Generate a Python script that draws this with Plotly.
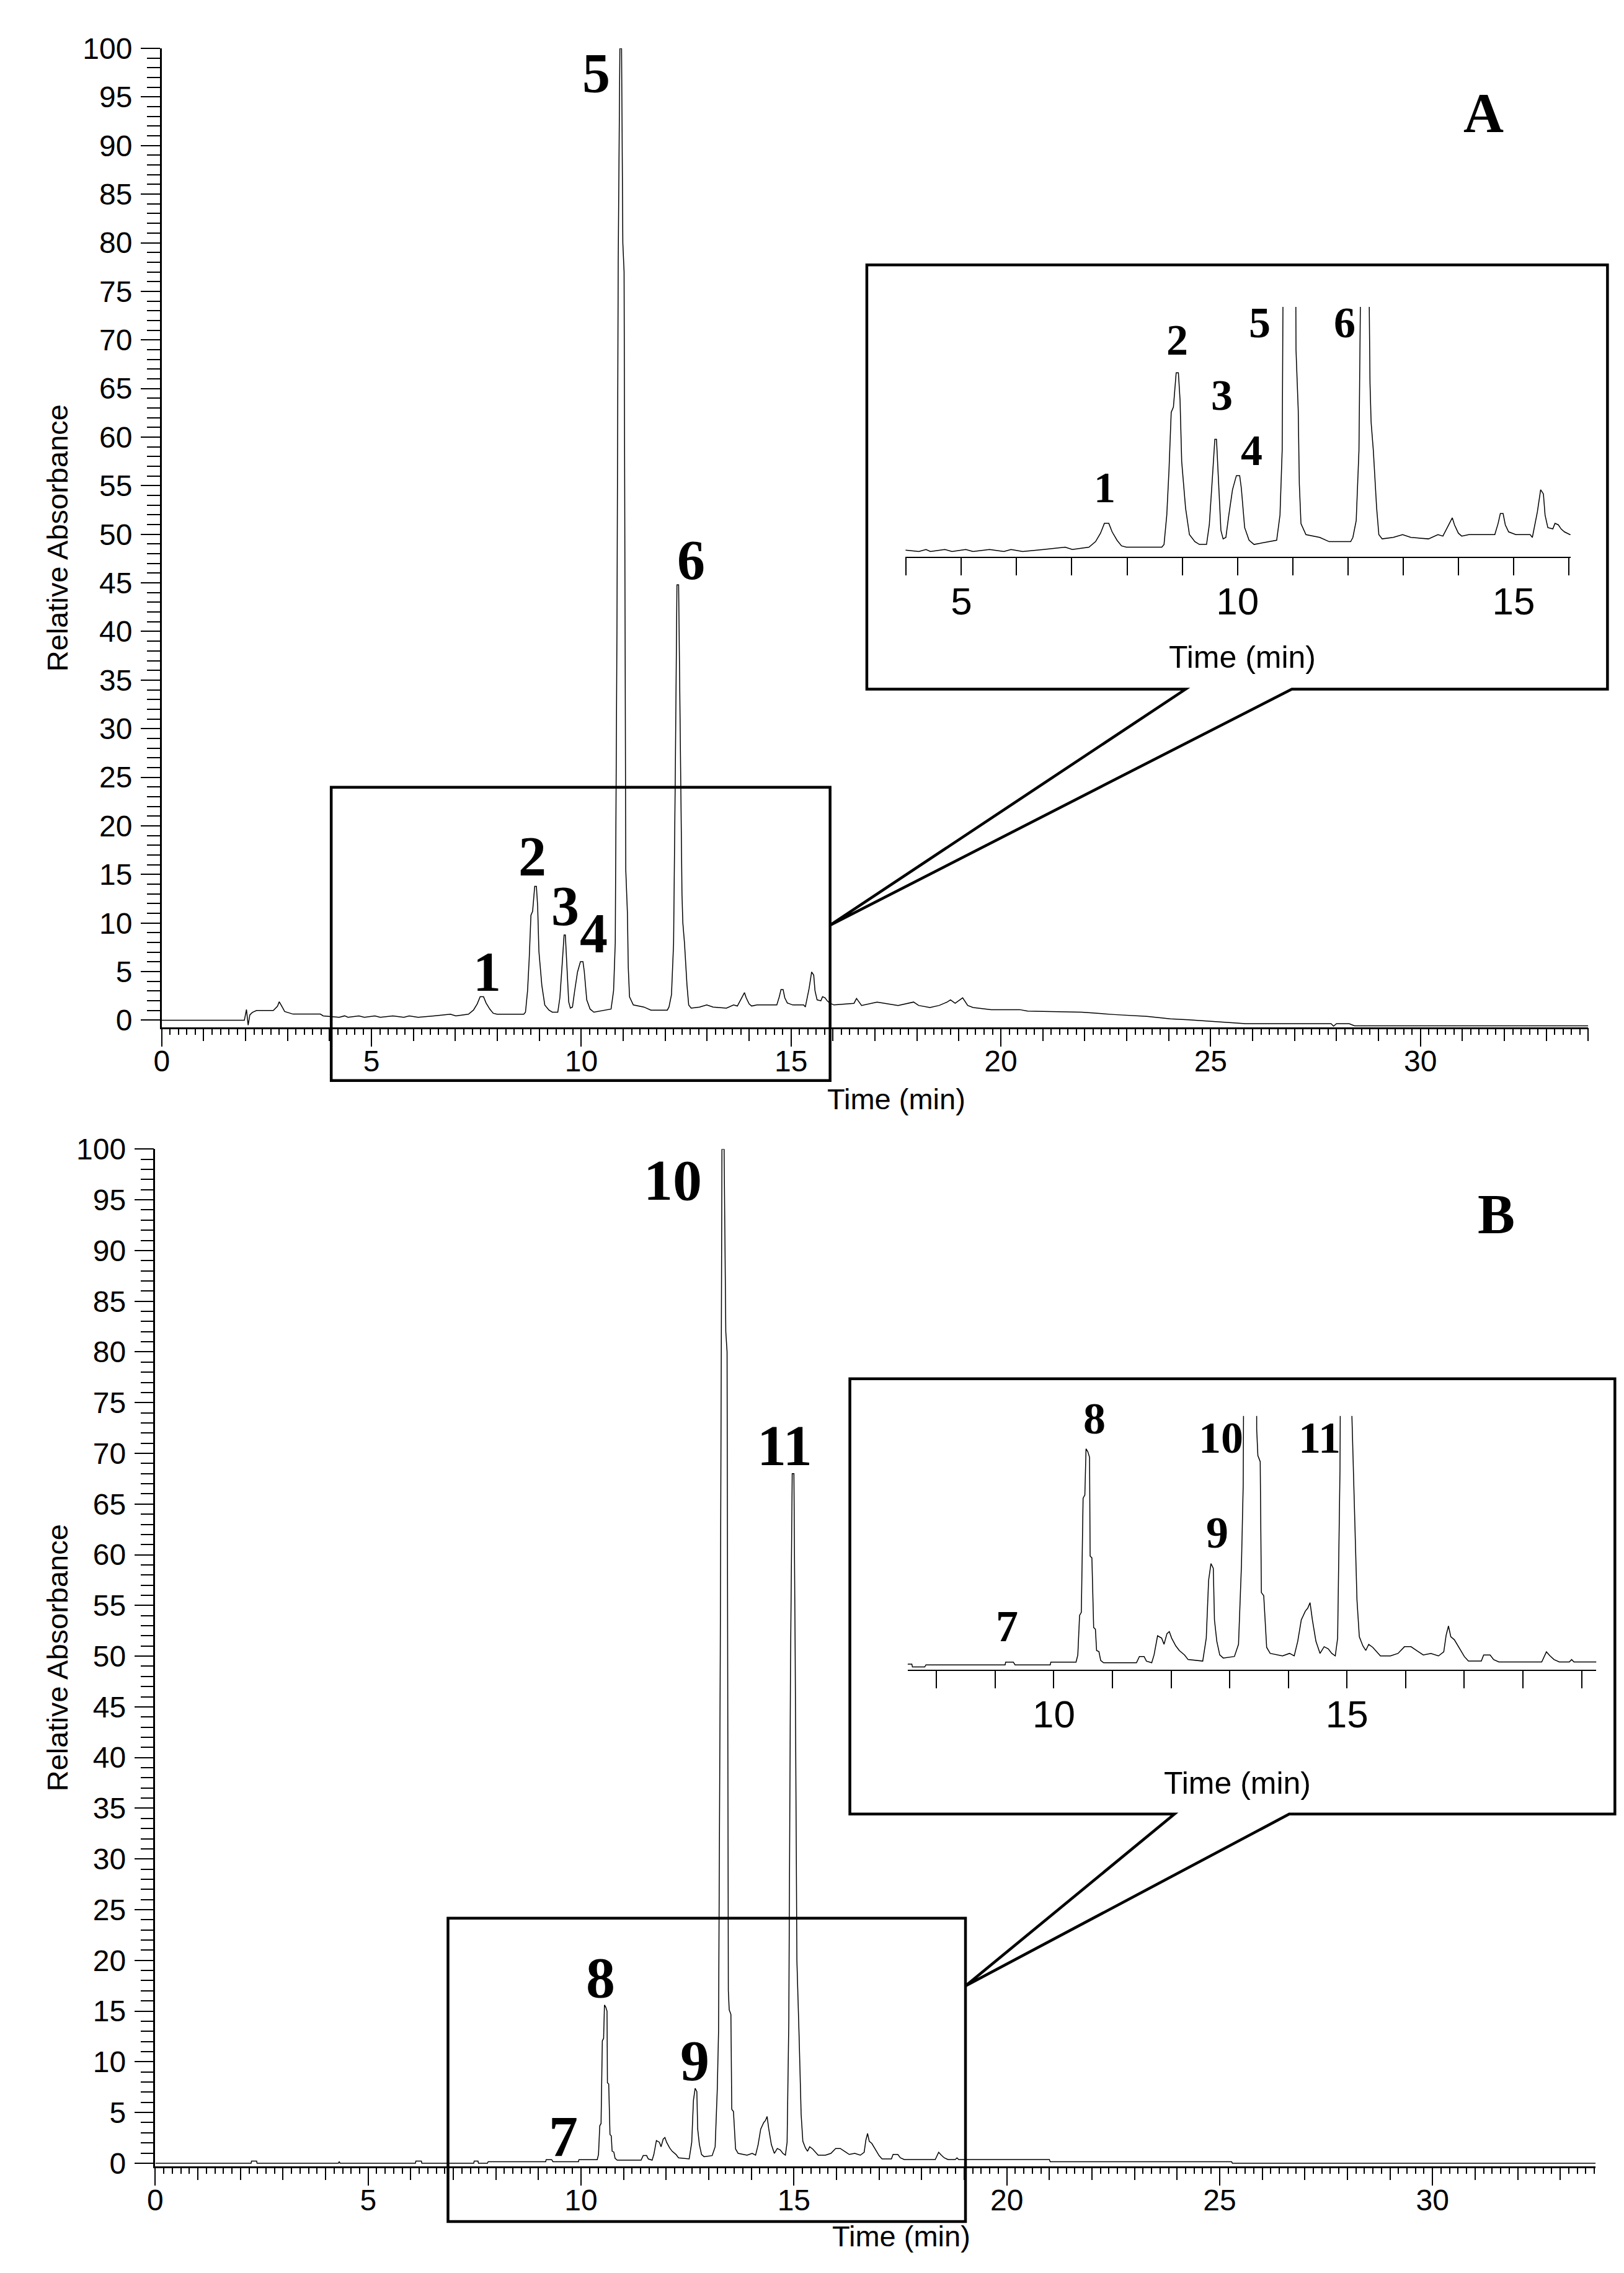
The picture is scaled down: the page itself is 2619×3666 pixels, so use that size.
import numpy as np
import plotly.graph_objects as go

W, H = 2619, 3666
SANS = "Liberation Sans, Arial, sans-serif"
SERIF = "Liberation Serif, Times New Roman, serif"

# ---- chromatogram A: time (min) / relative absorbance ----
time_a = [0.00, 1.97, 2.02, 2.06, 2.10, 2.16, 2.26, 2.66, 2.76, 2.80, 2.86, 2.93, 3.13, 3.78, 3.85,
          4.23, 4.36, 4.44, 4.70, 4.83, 5.08, 5.21, 5.51, 5.77, 5.90, 6.11, 6.49, 6.88, 7.01, 7.31,
          7.43, 7.52, 7.59, 7.67, 7.73, 7.82, 7.90, 7.99, 8.63, 8.67, 8.72, 8.76, 8.80, 8.84, 8.89,
          8.93, 8.96, 8.99, 9.06, 9.13, 9.23, 9.31, 9.44, 9.49, 9.55, 9.59, 9.62, 9.65, 9.70, 9.74,
          9.79, 9.84, 9.91, 9.98, 10.04, 10.07, 10.13, 10.21, 10.30, 10.71, 10.77, 10.81, 10.85,
          10.88, 10.92, 10.96, 10.99, 11.02, 11.04, 11.06, 11.10, 11.12, 11.15, 11.24, 11.49, 11.66,
          12.05, 12.09, 12.15, 12.20, 12.24, 12.28, 12.32, 12.36, 12.40, 12.42, 12.46, 12.52, 12.56,
          12.62, 12.82, 12.99, 13.14, 13.46, 13.63, 13.72, 13.82, 13.89, 13.93, 14.00, 14.06, 14.19,
          14.66, 14.72, 14.76, 14.81, 14.85, 14.91, 15.04, 15.30, 15.34, 15.43, 15.49, 15.54, 15.57,
          15.62, 15.71, 15.75, 15.81, 15.86, 15.92, 16.02, 16.50, 16.56, 16.68, 17.05, 17.55, 17.92,
          18.04, 18.31, 18.53, 18.72, 18.80, 18.91, 19.09, 19.21, 19.34, 19.77, 20.45, 20.64, 21.93,
          22.71, 23.48, 24.04, 24.47, 25.15, 25.83, 27.87, 27.93, 28.00, 28.30, 28.43, 34.00]
abs_a = [0.00, 0.00, 1.10, -0.50, 0.55, 0.80, 1.00, 1.00, 1.45, 1.90, 1.45, 0.90, 0.63, 0.63, 0.45,
         0.30, 0.45, 0.30, 0.45, 0.30, 0.45, 0.30, 0.45, 0.30, 0.45, 0.30, 0.45, 0.62, 0.45, 0.62,
         1.04, 1.68, 2.42, 2.42, 1.78, 1.14, 0.72, 0.62, 0.62, 0.83, 3.05, 6.44, 10.80, 11.20, 13.78,
         13.78, 11.74, 7.08, 3.58, 1.57, 1.04, 0.83, 0.83, 2.31, 6.13, 8.77, 8.77, 6.23, 1.89, 1.25,
         1.36, 2.95, 4.96, 6.02, 6.02, 5.07, 2.10, 1.15, 0.83, 1.15, 3.05, 8.00, 40.0,
         78.0, 100.0, 100.0, 80.0, 77.0, 40.0, 15.5, 11.0, 5.40, 2.40, 1.57, 1.36, 1.04,
         1.04, 1.36, 2.63, 7.93, 25.0, 44.8, 44.8, 30.0, 13.0, 10.05, 7.93, 3.58, 1.57,
         1.25, 1.36, 1.57, 1.36, 1.25, 1.57, 1.46, 2.31, 2.84, 2.31, 1.68, 1.46, 1.57,
         1.57, 2.42, 3.16, 3.16, 2.31, 1.78, 1.57, 1.57, 1.36, 3.27, 4.96, 4.64, 3.05,
         2.10, 2.00, 2.42, 2.31, 2.00, 1.78, 1.57, 1.74, 2.24, 1.52, 1.87, 1.52, 1.87,
         1.52, 1.31, 1.52, 1.87, 2.09, 1.74, 2.30, 1.52, 1.31, 1.09, 1.09, 0.94, 0.83,
         0.58, 0.40, 0.14, 0.04, -0.16, -0.35, -0.35, -0.61, -0.35, -0.35, -0.57, -0.57]

# ---- chromatogram B ----
time_b = [0.00, 2.25, 2.26, 2.38, 2.39, 4.30, 4.32, 4.34, 6.11, 6.12, 6.25, 6.26, 7.48, 7.49, 7.58,
          7.59, 7.80, 7.82, 9.17, 9.18, 9.31, 9.34, 9.94, 9.95, 10.38, 10.41, 10.44, 10.47, 10.50,
          10.53, 10.55, 10.58, 10.61, 10.62, 10.65, 10.68, 10.71, 10.73, 10.77, 10.80, 10.85, 11.41,
          11.46, 11.54, 11.58, 11.67, 11.71, 11.77, 11.84, 11.88, 11.93, 11.97, 12.01, 12.08, 12.14,
          12.23, 12.29, 12.54, 12.60, 12.64, 12.68, 12.72, 12.74, 12.78, 12.83, 12.89, 13.08, 13.15,
          13.20, 13.23, 13.27, 13.31, 13.36, 13.40, 13.43, 13.46, 13.48, 13.52, 13.54, 13.58, 13.63,
          13.69, 13.90, 14.02, 14.10, 14.16, 14.22, 14.29, 14.33, 14.37, 14.41, 14.47, 14.54, 14.61,
          14.68, 14.74, 14.80, 14.84, 14.88, 14.92, 14.96, 15.00, 15.03, 15.07, 15.12, 15.17, 15.21,
          15.27, 15.32, 15.37, 15.44, 15.51, 15.57, 15.74, 15.87, 15.98, 16.09, 16.22, 16.30, 16.43,
          16.56, 16.65, 16.69, 16.73, 16.77, 16.83, 16.92, 17.00, 17.07, 17.29, 17.33, 17.44, 17.50,
          17.59, 18.32, 18.36, 18.40, 18.46, 18.53, 18.62, 18.79, 18.83, 18.87, 21.00, 21.02, 25.28,
          25.30, 33.83]
abs_b = [0.00, 0.00, 0.20, 0.20, 0.00, 0.00, 0.15, 0.00, 0.00, 0.20, 0.20, 0.00, 0.00, 0.20, 0.20,
         0.00, 0.00, 0.15, 0.15, 0.35, 0.35, 0.15, 0.15, 0.35, 0.35, 0.86, 3.69, 3.91, 12.07,
         12.30, 15.60, 15.40, 15.00, 7.93, 7.80, 2.82, 2.70, 1.18, 1.10, 0.47, 0.30, 0.30,
         0.75, 0.75, 0.42, 0.30, 0.86, 2.23, 2.06, 1.62, 2.38, 2.53, 2.06, 1.51, 1.18,
         0.86, 0.53, 0.42, 2.06, 6.19, 7.39, 7.06, 3.36, 1.84, 0.86, 0.64, 0.75, 1.62,
         7.28, 13.0, 50.0, 100.0, 100.0, 82.0, 80.0, 17.0, 15.12, 14.68, 5.32, 5.10, 1.40,
         0.97, 0.79, 0.97, 0.79, 1.84, 3.36, 4.00, 4.20, 4.60, 3.36, 1.84, 0.97, 1.45,
         1.30, 0.97, 0.79, 2.06, 14.0, 49.0, 68.0, 68.0, 50.0, 20.0, 12.83, 4.78, 2.16,
         1.51, 1.18, 1.62, 1.40, 1.08, 0.79, 0.79, 0.97, 1.45, 1.45, 1.08, 0.86, 0.97,
         0.79, 1.08, 2.27, 2.93, 2.16, 1.95, 1.29, 0.75, 0.42, 0.42, 0.86, 0.86, 0.53,
         0.36, 0.36, 0.75, 1.08, 0.80, 0.53, 0.36, 0.36, 0.53, 0.36, 0.36, 0.14, 0.14,
         0.00, 0.00]

# ---- peak labels (label, time, absorbance) ----
peaks_a = ["1", "2", "3", "4", "5", "6"]
peaks_a_t = [7.76, 8.84, 9.61, 10.30, 10.36, 12.61]
peaks_a_y = [4.98, 16.87, 11.71, 8.90, 97.41, 47.35]
inset_a_t = [7.60, 8.91, 9.72, 10.26, 10.40, 11.94]
inset_a_y = [5.13, 16.26, 12.10, 7.93, 17.57, 17.55]

peaks_b = ["7", "8", "9", "10", "11"]
peaks_b_t = [9.58, 10.46, 12.67, 12.15, 14.78]
peaks_b_y = [2.67, 18.36, 10.15, 96.98, 70.80]
inset_b_t = [9.20, 10.695, 12.79, 12.85, 14.53]
inset_b_y = [2.90, 17.76, 9.59, 16.37, 16.37]

# axis windows
range_a = [0, 34.0]
range_b = [0, 33.83]
yrange_a = [-0.74, 100]
yrange_b = [-0.3, 100]
inset_a_x = [3.99, 16.03]
inset_a_yr = [-0.08, 18.75]
inset_b_x = [7.51, 19.25]
inset_b_yr = [-0.18, 17.95]
zoom_a = [4.04, 15.93, -6.2, 23.97]
zoom_b = [6.875, 19.03, -5.76, 24.16]


def px(x):
    return x / W


def py(y):
    return 1 - y / H


dom_a_x = [px(241), px(2553)]
dom_a_y = [py(1644.6), py(44.6)]
dom_b_x = [px(230.6), px(2564.9)]
dom_b_y = [py(3505.7), py(1843.5)]
dom_ia_x = [px(1446.6), px(2524.2)]
dom_ia_y = [py(875), py(467.2)]
dom_ib_x = [px(1450.1), px(2566)]
dom_ib_y = [py(2693.9), py(2279.6)]


def to_paper(v, dom, rng):
    return dom[0] + (v - rng[0]) / (rng[1] - rng[0]) * (dom[1] - dom[0])


fig = go.Figure()
line = dict(color="black", width=1.5)
fig.add_trace(go.Scatter(x=time_a, y=abs_a, mode="lines", line=line, xaxis="x", yaxis="y"))
fig.add_trace(go.Scatter(x=time_a, y=abs_a, mode="lines", line=line, xaxis="x2", yaxis="y2"))
fig.add_trace(go.Scatter(x=time_b, y=abs_b, mode="lines", line=line, xaxis="x3", yaxis="y3"))
fig.add_trace(go.Scatter(x=time_b, y=abs_b, mode="lines", line=line, xaxis="x4", yaxis="y4"))
# empty traces so the integer-tick overlay axes get drawn
fig.add_trace(go.Scatter(x=[None], y=[None], xaxis="x5", yaxis="y"))
fig.add_trace(go.Scatter(x=[None], y=[None], xaxis="x6", yaxis="y3"))

tickfont = dict(family=SANS, size=48, color="black")


def main_x(dom, anchor, rng):
    labels = list(range(0, int(rng[1]) + 1, 5))
    minor_vals = [round(v, 1) for v in np.arange(0, rng[1] + 0.001, 0.2)]
    return dict(domain=dom, anchor=anchor, range=rng, showline=True, linecolor="black",
                linewidth=2.5, ticks="outside", tickmode="array", tickvals=labels,
                ticktext=[str(v) for v in labels], ticklen=28, tickwidth=2, tickcolor="black",
                tickfont=tickfont, ticklabelstandoff=-17, showgrid=False, zeroline=False,
                minor=dict(tickmode="array", tickvals=minor_vals, ticks="outside", ticklen=9,
                           tickwidth=1.5, tickcolor="black", showgrid=False))


def int_x(over, anchor, rng):
    return dict(overlaying=over, anchor=anchor, range=rng, tickmode="array",
                tickvals=list(range(0, int(rng[1]) + 1)), ticks="outside", ticklen=21,
                tickwidth=2, tickcolor="black", showticklabels=False, showline=False,
                showgrid=False, zeroline=False)


def main_y(dom, anchor, rng):
    return dict(domain=dom, anchor=anchor, range=rng, showline=True, linecolor="black",
                linewidth=2.5, ticks="outside", tickmode="linear", tick0=0, dtick=5,
                ticklen=31, tickwidth=2, tickcolor="black", tickfont=tickfont,
                ticklabelstandoff=4, showgrid=False, zeroline=False,
                minor=dict(tick0=0, dtick=1, ticks="outside", ticklen=21, tickwidth=2,
                           tickcolor="black", showgrid=False))


def inset_x(dom, anchor, rng):
    vals = list(range(int(np.ceil(rng[0])), int(rng[1]) + 1))
    return dict(domain=dom, anchor=anchor, range=rng, showline=True, linecolor="black",
                linewidth=2, ticks="outside", tickmode="array", tickvals=vals,
                ticktext=[str(v) if v % 5 == 0 else "" for v in vals], ticklen=28,
                tickwidth=2, tickcolor="black",
                tickfont=dict(family=SANS, size=62, color="black"), ticklabelstandoff=-11,
                showgrid=False, zeroline=False)


def inset_y(dom, anchor, rng):
    return dict(domain=dom, anchor=anchor, range=rng, visible=False)


shapes = []


def box_with_pointer(left, top, right, bottom, p1, p2, tip):
    path = (f"M {px(left)},{py(bottom)} L {px(left)},{py(top)} L {px(right)},{py(top)} "
            f"L {px(right)},{py(bottom)} L {px(p2)},{py(bottom)} L {tip[0]},{tip[1]} "
            f"L {px(p1)},{py(bottom)} Z")
    shapes.append(dict(type="path", xref="paper", yref="paper", path=path,
                       line=dict(color="black", width=4.5)))


def zoom_rect(z, domx, rx, domy, ry):
    x0, x1 = to_paper(z[0], domx, rx), to_paper(z[1], domx, rx)
    y0, y1 = to_paper(z[2], domy, ry), to_paper(z[3], domy, ry)
    shapes.append(dict(type="rect", xref="paper", yref="paper", x0=x0, x1=x1, y0=y0, y1=y1,
                       line=dict(color="black", width=4.5)))
    return x1


xr_a = zoom_rect(zoom_a, dom_a_x, range_a, dom_a_y, yrange_a)
xr_b = zoom_rect(zoom_b, dom_b_x, range_b, dom_b_y, yrange_b)
box_with_pointer(1383.8, 398.4, 2584.2, 1091.8, 1900.4, 2072.6,
                 (xr_a, to_paper(9.78, dom_a_y, yrange_a)))
box_with_pointer(1356.3, 2218.9, 2596.2, 2930.2, 1882.4, 2068.4,
                 (xr_b, to_paper(17.48, dom_b_y, yrange_b)))

ann = []


def label(text, x, y, xref, yref, size, family=SERIF, bold=True, angle=0):
    ann.append(dict(text=text, x=x, y=y, xref=xref, yref=yref, showarrow=False,
                    xanchor="center", yanchor="middle", textangle=angle,
                    font=dict(family=family, size=size, color="black",
                              weight="bold" if bold else "normal")))


for t, xx, yy in zip(peaks_a, peaks_a_t, peaks_a_y):
    label(t, xx, yy, "x", "y", 90)
for t, xx, yy in zip(peaks_a, inset_a_t, inset_a_y):
    label(t, xx, yy, "x2", "y2", 70)
for t, xx, yy in zip(peaks_b, peaks_b_t, peaks_b_y):
    label(t, xx, yy, "x3", "y3", 94)
for t, xx, yy in zip(peaks_b, inset_b_t, inset_b_y):
    label(t, xx, yy, "x4", "y4", 72)

label("A", px(2383), py(150.7), "paper", "paper", 90)
label("B", px(2403.8), py(1950.4), "paper", "paper", 90)

label("Time (min)", px(1431.6), py(1762), "paper", "paper", 47, SANS, False)
label("Time (min)", px(1440), py(3620), "paper", "paper", 47, SANS, False)
label("Time (min)", px(1992), py(1040), "paper", "paper", 50, SANS, False)
label("Time (min)", px(1984.6), py(2880), "paper", "paper", 50, SANS, False)
label("Relative Absorbance", px(72), to_paper(50, dom_a_y, [0, 100]), "paper", "paper", 47,
      SANS, False, -90)
label("Relative Absorbance", px(72), to_paper(50, dom_b_y, [0, 100]), "paper", "paper", 47,
      SANS, False, -90)

fig.update_layout(
    width=W, height=H, autosize=False,
    margin=dict(l=0, r=0, t=0, b=0),
    paper_bgcolor="white", plot_bgcolor="white",
    showlegend=False,
    xaxis=main_x(dom_a_x, "y", range_a),
    yaxis=main_y(dom_a_y, "x", yrange_a),
    xaxis2=inset_x(dom_ia_x, "y2", inset_a_x),
    yaxis2=inset_y(dom_ia_y, "x2", inset_a_yr),
    xaxis3=main_x(dom_b_x, "y3", range_b),
    yaxis3=main_y(dom_b_y, "x3", yrange_b),
    xaxis4=inset_x(dom_ib_x, "y4", inset_b_x),
    yaxis4=inset_y(dom_ib_y, "x4", inset_b_yr),
    xaxis5=int_x("x", "y", range_a),
    xaxis6=int_x("x3", "y3", range_b),
    shapes=shapes,
    annotations=ann,
)

fig.write_html("out.html")
